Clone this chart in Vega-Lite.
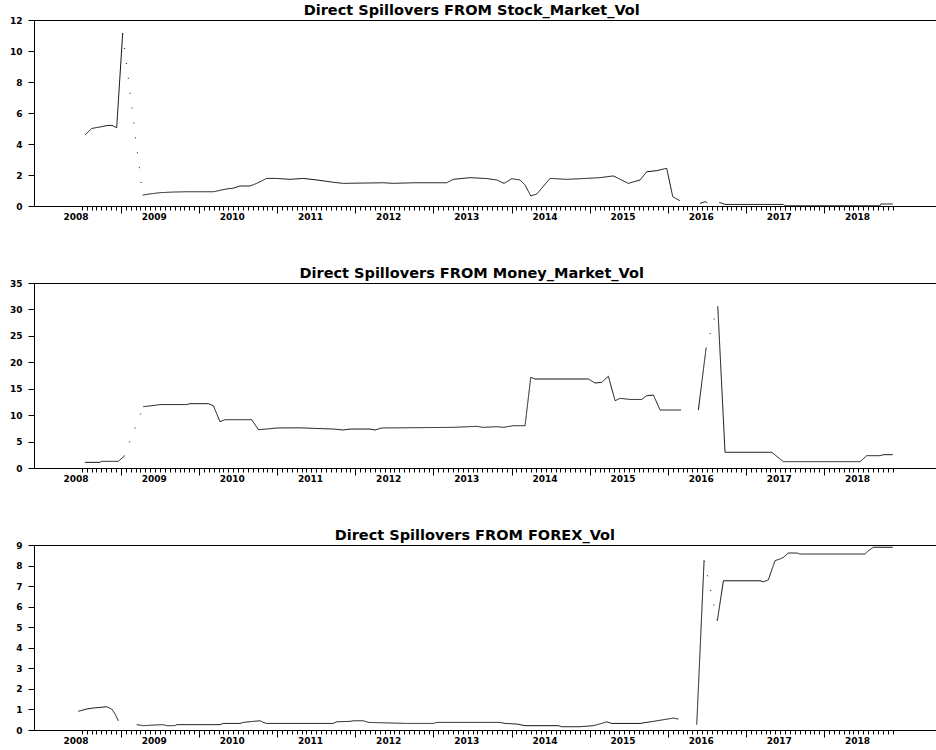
{
"$schema": "https://vega.github.io/schema/vega-lite/v6.json",
"padding": {"left": 8, "top": 2, "right": 0, "bottom": 0},
"background": "white",
"datasets": {
"stock": [
{"t":2008.121,"v":4.58,"g":1,"s":"solid"},{"t":2008.206,"v":5.0,"g":1,"s":"solid"},{"t":2008.313,"v":5.1,"g":1,"s":"solid"},{"t":2008.415,"v":5.2,"g":1,"s":"solid"},{"t":2008.466,"v":5.2,"g":1,"s":"solid"},{"t":2008.526,"v":5.05,"g":1,"s":"solid"},{"t":2008.603,"v":11.15,"g":1,"s":"solid"},
{"t":2008.603,"v":11.15,"g":2,"s":"dotted"},{"t":2008.859,"v":0.7,"g":2,"s":"dotted"},
{"t":2008.859,"v":0.7,"g":3,"s":"solid"},{"t":2008.910,"v":0.75,"g":3,"s":"solid"},{"t":2009.080,"v":0.86,"g":3,"s":"solid"},{"t":2009.251,"v":0.9,"g":3,"s":"solid"},{"t":2009.422,"v":0.92,"g":3,"s":"solid"},{"t":2009.763,"v":0.92,"g":3,"s":"solid"},{"t":2009.934,"v":1.1,"g":3,"s":"solid"},{"t":2010.019,"v":1.15,"g":3,"s":"solid"},{"t":2010.104,"v":1.29,"g":3,"s":"solid"},{"t":2010.232,"v":1.29,"g":3,"s":"solid"},{"t":2010.318,"v":1.46,"g":3,"s":"solid"},{"t":2010.446,"v":1.78,"g":3,"s":"solid"},{"t":2010.574,"v":1.78,"g":3,"s":"solid"},{"t":2010.744,"v":1.72,"g":3,"s":"solid"},{"t":2010.914,"v":1.78,"g":3,"s":"solid"},{"t":2011.086,"v":1.68,"g":3,"s":"solid"},{"t":2011.298,"v":1.53,"g":3,"s":"solid"},{"t":2011.426,"v":1.46,"g":3,"s":"solid"},{"t":2011.938,"v":1.5,"g":3,"s":"solid"},{"t":2012.066,"v":1.46,"g":3,"s":"solid"},{"t":2012.322,"v":1.5,"g":3,"s":"solid"},{"t":2012.750,"v":1.5,"g":3,"s":"solid"},{"t":2012.834,"v":1.72,"g":3,"s":"solid"},{"t":2013.048,"v":1.83,"g":3,"s":"solid"},{"t":2013.262,"v":1.77,"g":3,"s":"solid"},{"t":2013.390,"v":1.68,"g":3,"s":"solid"},{"t":2013.483,"v":1.46,"g":3,"s":"solid"},{"t":2013.582,"v":1.76,"g":3,"s":"solid"},{"t":2013.688,"v":1.68,"g":3,"s":"solid"},{"t":2013.752,"v":1.35,"g":3,"s":"solid"},{"t":2013.825,"v":0.65,"g":3,"s":"solid"},{"t":2013.901,"v":0.77,"g":3,"s":"solid"},{"t":2014.072,"v":1.78,"g":3,"s":"solid"},{"t":2014.285,"v":1.72,"g":3,"s":"solid"},{"t":2014.541,"v":1.78,"g":3,"s":"solid"},{"t":2014.712,"v":1.83,"g":3,"s":"solid"},{"t":2014.882,"v":1.94,"g":3,"s":"solid"},{"t":2015.074,"v":1.46,"g":3,"s":"solid"},{"t":2015.224,"v":1.68,"g":3,"s":"solid"},{"t":2015.309,"v":2.21,"g":3,"s":"solid"},{"t":2015.437,"v":2.28,"g":3,"s":"solid"},{"t":2015.565,"v":2.43,"g":3,"s":"solid"},{"t":2015.642,"v":0.6,"g":3,"s":"solid"},{"t":2015.735,"v":0.34,"g":3,"s":"solid"},
{"t":2015.991,"v":0.17,"g":4,"s":"solid"},{"t":2016.055,"v":0.28,"g":4,"s":"solid"},{"t":2016.085,"v":0.2,"g":4,"s":"solid"},
{"t":2016.238,"v":0.24,"g":5,"s":"solid"},{"t":2016.311,"v":0.1,"g":5,"s":"solid"},{"t":2017.058,"v":0.1,"g":5,"s":"solid"},{"t":2017.079,"v":0.02,"g":5,"s":"solid"},{"t":2018.295,"v":0.02,"g":5,"s":"solid"},{"t":2018.304,"v":0.13,"g":5,"s":"solid"},{"t":2018.458,"v":0.13,"g":5,"s":"solid"}
],
"money": [
{"t":2008.121,"v":1.07,"g":1,"s":"solid"},{"t":2008.313,"v":1.07,"g":1,"s":"solid"},{"t":2008.334,"v":1.26,"g":1,"s":"solid"},{"t":2008.547,"v":1.26,"g":1,"s":"solid"},{"t":2008.620,"v":2.2,"g":1,"s":"solid"},
{"t":2008.620,"v":2.2,"g":2,"s":"dotted"},{"t":2008.867,"v":11.6,"g":2,"s":"dotted"},
{"t":2008.867,"v":11.6,"g":3,"s":"solid"},{"t":2009.038,"v":11.9,"g":3,"s":"solid"},{"t":2009.080,"v":12.0,"g":3,"s":"solid"},{"t":2009.422,"v":12.0,"g":3,"s":"solid"},{"t":2009.464,"v":12.17,"g":3,"s":"solid"},{"t":2009.699,"v":12.17,"g":3,"s":"solid"},{"t":2009.763,"v":11.8,"g":3,"s":"solid"},{"t":2009.848,"v":8.77,"g":3,"s":"solid"},{"t":2009.912,"v":9.14,"g":3,"s":"solid"},{"t":2010.254,"v":9.14,"g":3,"s":"solid"},{"t":2010.339,"v":7.25,"g":3,"s":"solid"},{"t":2010.446,"v":7.37,"g":3,"s":"solid"},{"t":2010.574,"v":7.57,"g":3,"s":"solid"},{"t":2010.872,"v":7.6,"g":3,"s":"solid"},{"t":2011.042,"v":7.5,"g":3,"s":"solid"},{"t":2011.298,"v":7.37,"g":3,"s":"solid"},{"t":2011.426,"v":7.19,"g":3,"s":"solid"},{"t":2011.512,"v":7.37,"g":3,"s":"solid"},{"t":2011.768,"v":7.37,"g":3,"s":"solid"},{"t":2011.832,"v":7.19,"g":3,"s":"solid"},{"t":2011.918,"v":7.57,"g":3,"s":"solid"},{"t":2012.834,"v":7.69,"g":3,"s":"solid"},{"t":2013.134,"v":7.88,"g":3,"s":"solid"},{"t":2013.218,"v":7.69,"g":3,"s":"solid"},{"t":2013.390,"v":7.82,"g":3,"s":"solid"},{"t":2013.474,"v":7.69,"g":3,"s":"solid"},{"t":2013.602,"v":8.0,"g":3,"s":"solid"},{"t":2013.752,"v":8.0,"g":3,"s":"solid"},{"t":2013.825,"v":17.16,"g":3,"s":"solid"},{"t":2013.880,"v":16.84,"g":3,"s":"solid"},{"t":2014.562,"v":16.84,"g":3,"s":"solid"},{"t":2014.648,"v":16.08,"g":3,"s":"solid"},{"t":2014.733,"v":16.2,"g":3,"s":"solid"},{"t":2014.818,"v":17.35,"g":3,"s":"solid"},{"t":2014.904,"v":12.73,"g":3,"s":"solid"},{"t":2014.968,"v":13.18,"g":3,"s":"solid"},{"t":2015.096,"v":12.97,"g":3,"s":"solid"},{"t":2015.245,"v":12.97,"g":3,"s":"solid"},{"t":2015.309,"v":13.68,"g":3,"s":"solid"},{"t":2015.394,"v":13.8,"g":3,"s":"solid"},{"t":2015.480,"v":10.97,"g":3,"s":"solid"},{"t":2015.748,"v":10.97,"g":3,"s":"solid"},
{"t":2015.970,"v":10.97,"g":4,"s":"solid"},{"t":2016.068,"v":22.6,"g":4,"s":"solid"},
{"t":2016.068,"v":22.6,"g":5,"s":"dotted"},{"t":2016.218,"v":30.6,"g":5,"s":"dotted"},
{"t":2016.218,"v":30.6,"g":6,"s":"solid"},{"t":2016.311,"v":2.97,"g":6,"s":"solid"},{"t":2016.909,"v":2.97,"g":6,"s":"solid"},{"t":2017.058,"v":1.2,"g":6,"s":"solid"},{"t":2018.039,"v":1.2,"g":6,"s":"solid"},{"t":2018.125,"v":2.33,"g":6,"s":"solid"},{"t":2018.295,"v":2.33,"g":6,"s":"solid"},{"t":2018.337,"v":2.52,"g":6,"s":"solid"},{"t":2018.458,"v":2.52,"g":6,"s":"solid"}
],
"forex": [
{"t":2008.035,"v":0.91,"g":1,"s":"solid"},{"t":2008.142,"v":1.02,"g":1,"s":"solid"},{"t":2008.227,"v":1.07,"g":1,"s":"solid"},{"t":2008.313,"v":1.1,"g":1,"s":"solid"},{"t":2008.398,"v":1.13,"g":1,"s":"solid"},{"t":2008.462,"v":1.02,"g":1,"s":"solid"},{"t":2008.505,"v":0.78,"g":1,"s":"solid"},{"t":2008.547,"v":0.45,"g":1,"s":"solid"},
{"t":2008.782,"v":0.26,"g":2,"s":"solid"},{"t":2008.867,"v":0.21,"g":2,"s":"solid"},{"t":2008.995,"v":0.24,"g":2,"s":"solid"},{"t":2009.123,"v":0.26,"g":2,"s":"solid"},{"t":2009.166,"v":0.21,"g":2,"s":"solid"},{"t":2009.272,"v":0.21,"g":2,"s":"solid"},{"t":2009.294,"v":0.26,"g":2,"s":"solid"},{"t":2009.848,"v":0.26,"g":2,"s":"solid"},{"t":2009.891,"v":0.32,"g":2,"s":"solid"},{"t":2010.104,"v":0.32,"g":2,"s":"solid"},{"t":2010.147,"v":0.37,"g":2,"s":"solid"},{"t":2010.275,"v":0.42,"g":2,"s":"solid"},{"t":2010.360,"v":0.45,"g":2,"s":"solid"},{"t":2010.402,"v":0.37,"g":2,"s":"solid"},{"t":2010.446,"v":0.32,"g":2,"s":"solid"},{"t":2011.298,"v":0.32,"g":2,"s":"solid"},{"t":2011.342,"v":0.4,"g":2,"s":"solid"},{"t":2011.512,"v":0.42,"g":2,"s":"solid"},{"t":2011.554,"v":0.45,"g":2,"s":"solid"},{"t":2011.682,"v":0.45,"g":2,"s":"solid"},{"t":2011.746,"v":0.37,"g":2,"s":"solid"},{"t":2012.238,"v":0.32,"g":2,"s":"solid"},{"t":2012.578,"v":0.32,"g":2,"s":"solid"},{"t":2012.622,"v":0.37,"g":2,"s":"solid"},{"t":2013.432,"v":0.37,"g":2,"s":"solid"},{"t":2013.496,"v":0.32,"g":2,"s":"solid"},{"t":2013.645,"v":0.29,"g":2,"s":"solid"},{"t":2013.752,"v":0.21,"g":2,"s":"solid"},{"t":2014.178,"v":0.21,"g":2,"s":"solid"},{"t":2014.221,"v":0.16,"g":2,"s":"solid"},{"t":2014.456,"v":0.16,"g":2,"s":"solid"},{"t":2014.626,"v":0.21,"g":2,"s":"solid"},{"t":2014.733,"v":0.32,"g":2,"s":"solid"},{"t":2014.797,"v":0.4,"g":2,"s":"solid"},{"t":2014.861,"v":0.32,"g":2,"s":"solid"},{"t":2015.224,"v":0.32,"g":2,"s":"solid"},{"t":2015.394,"v":0.42,"g":2,"s":"solid"},{"t":2015.650,"v":0.58,"g":2,"s":"solid"},{"t":2015.714,"v":0.53,"g":2,"s":"solid"},
{"t":2015.949,"v":0.26,"g":3,"s":"solid"},{"t":2016.043,"v":8.24,"g":3,"s":"solid"},
{"t":2016.043,"v":8.24,"g":4,"s":"dotted"},{"t":2016.213,"v":5.32,"g":4,"s":"dotted"},
{"t":2016.213,"v":5.32,"g":5,"s":"solid"},{"t":2016.290,"v":7.26,"g":5,"s":"solid"},{"t":2016.759,"v":7.26,"g":5,"s":"solid"},{"t":2016.801,"v":7.21,"g":5,"s":"solid"},{"t":2016.865,"v":7.3,"g":5,"s":"solid"},{"t":2016.951,"v":8.24,"g":5,"s":"solid"},{"t":2017.015,"v":8.32,"g":5,"s":"solid"},{"t":2017.058,"v":8.4,"g":5,"s":"solid"},{"t":2017.121,"v":8.61,"g":5,"s":"solid"},{"t":2017.229,"v":8.61,"g":5,"s":"solid"},{"t":2017.271,"v":8.56,"g":5,"s":"solid"},{"t":2018.103,"v":8.56,"g":5,"s":"solid"},{"t":2018.145,"v":8.72,"g":5,"s":"solid"},{"t":2018.209,"v":8.89,"g":5,"s":"solid"},{"t":2018.458,"v":8.89,"g":5,"s":"solid"}
]
},
"concat": [
{
"title": "Direct Spillovers FROM Stock_Market_Vol",
"width": 916, "height": 186,
"data": {"name": "stock"},
"mark": {"type": "line", "color": "#111111", "strokeWidth": 1},
"encoding": {
"x": {"field": "t", "type": "quantitative", "scale": {"domain": [2007.468, 2019.19], "nice": false, "zero": false},
"axis": {"title": null, "grid": false, "labelOverlap": false, "labelFlush": false, "labelBound": false, "labelPadding": 2,
"labelExpr": "datum.value % 1 === 0 ? format(datum.value, 'd') : ''",
"tickSize": {"condition": {"test": "abs(datum.value % 1 - 0.58) < 0.002", "value": 7}, "value": 4},
"tickOpacity": {"condition": {"test": "datum.value % 1 === 0", "value": 0}, "value": 1},
"values": [2008,2008.08,2008.1425,2008.205,2008.2675,2008.33,2008.3925,2008.455,2008.5175,2008.58,2008.6425,2008.705,2008.7675,2008.83,2008.8925,2008.955,2009,2009.0175,2009.08,2009.1425,2009.205,2009.2675,2009.33,2009.3925,2009.455,2009.5175,2009.58,2009.6425,2009.705,2009.7675,2009.83,2009.8925,2009.955,2010,2010.0175,2010.08,2010.1425,2010.205,2010.2675,2010.33,2010.3925,2010.455,2010.5175,2010.58,2010.6425,2010.705,2010.7675,2010.83,2010.8925,2010.955,2011,2011.0175,2011.08,2011.1425,2011.205,2011.2675,2011.33,2011.3925,2011.455,2011.5175,2011.58,2011.6425,2011.705,2011.7675,2011.83,2011.8925,2011.955,2012,2012.0175,2012.08,2012.1425,2012.205,2012.2675,2012.33,2012.3925,2012.455,2012.5175,2012.58,2012.6425,2012.705,2012.7675,2012.83,2012.8925,2012.955,2013,2013.0175,2013.08,2013.1425,2013.205,2013.2675,2013.33,2013.3925,2013.455,2013.5175,2013.58,2013.6425,2013.705,2013.7675,2013.83,2013.8925,2013.955,2014,2014.0175,2014.08,2014.1425,2014.205,2014.2675,2014.33,2014.3925,2014.455,2014.5175,2014.58,2014.6425,2014.705,2014.7675,2014.83,2014.8925,2014.955,2015,2015.0175,2015.08,2015.1425,2015.205,2015.2675,2015.33,2015.3925,2015.455,2015.5175,2015.58,2015.6425,2015.705,2015.7675,2015.83,2015.8925,2015.955,2016,2016.0175,2016.08,2016.1425,2016.205,2016.2675,2016.33,2016.3925,2016.455,2016.5175,2016.58,2016.6425,2016.705,2016.7675,2016.83,2016.8925,2016.955,2017,2017.0175,2017.08,2017.1425,2017.205,2017.2675,2017.33,2017.3925,2017.455,2017.5175,2017.58,2017.6425,2017.705,2017.7675,2017.83,2017.8925,2017.955,2018,2018.0175,2018.08,2018.1425,2018.205,2018.2675,2018.33,2018.3925,2018.455]}},
"y": {"field": "v", "type": "quantitative", "scale": {"domain": [0, 12], "nice": false}, "axis": {"title": null, "grid": false, "values": [0,2,4,6,8,10,12]}},
"detail": {"field": "g", "type": "nominal"},
"strokeDash": {"field": "s", "type": "nominal", "scale": {"domain": ["solid", "dotted"], "range": [[1, 0], [1, 14]]}, "legend": null}
}
},
{
"title": "Direct Spillovers FROM Money_Market_Vol",
"width": 916, "height": 185,
"data": {"name": "money"},
"mark": {"type": "line", "color": "#111111", "strokeWidth": 1},
"encoding": {
"x": {"field": "t", "type": "quantitative", "scale": {"domain": [2007.468, 2019.19], "nice": false, "zero": false},
"axis": {"title": null, "grid": false, "labelOverlap": false, "labelFlush": false, "labelBound": false, "labelPadding": 2,
"labelExpr": "datum.value % 1 === 0 ? format(datum.value, 'd') : ''",
"tickSize": {"condition": {"test": "abs(datum.value % 1 - 0.58) < 0.002", "value": 7}, "value": 4},
"tickOpacity": {"condition": {"test": "datum.value % 1 === 0", "value": 0}, "value": 1},
"values": [2008,2008.08,2008.1425,2008.205,2008.2675,2008.33,2008.3925,2008.455,2008.5175,2008.58,2008.6425,2008.705,2008.7675,2008.83,2008.8925,2008.955,2009,2009.0175,2009.08,2009.1425,2009.205,2009.2675,2009.33,2009.3925,2009.455,2009.5175,2009.58,2009.6425,2009.705,2009.7675,2009.83,2009.8925,2009.955,2010,2010.0175,2010.08,2010.1425,2010.205,2010.2675,2010.33,2010.3925,2010.455,2010.5175,2010.58,2010.6425,2010.705,2010.7675,2010.83,2010.8925,2010.955,2011,2011.0175,2011.08,2011.1425,2011.205,2011.2675,2011.33,2011.3925,2011.455,2011.5175,2011.58,2011.6425,2011.705,2011.7675,2011.83,2011.8925,2011.955,2012,2012.0175,2012.08,2012.1425,2012.205,2012.2675,2012.33,2012.3925,2012.455,2012.5175,2012.58,2012.6425,2012.705,2012.7675,2012.83,2012.8925,2012.955,2013,2013.0175,2013.08,2013.1425,2013.205,2013.2675,2013.33,2013.3925,2013.455,2013.5175,2013.58,2013.6425,2013.705,2013.7675,2013.83,2013.8925,2013.955,2014,2014.0175,2014.08,2014.1425,2014.205,2014.2675,2014.33,2014.3925,2014.455,2014.5175,2014.58,2014.6425,2014.705,2014.7675,2014.83,2014.8925,2014.955,2015,2015.0175,2015.08,2015.1425,2015.205,2015.2675,2015.33,2015.3925,2015.455,2015.5175,2015.58,2015.6425,2015.705,2015.7675,2015.83,2015.8925,2015.955,2016,2016.0175,2016.08,2016.1425,2016.205,2016.2675,2016.33,2016.3925,2016.455,2016.5175,2016.58,2016.6425,2016.705,2016.7675,2016.83,2016.8925,2016.955,2017,2017.0175,2017.08,2017.1425,2017.205,2017.2675,2017.33,2017.3925,2017.455,2017.5175,2017.58,2017.6425,2017.705,2017.7675,2017.83,2017.8925,2017.955,2018,2018.0175,2018.08,2018.1425,2018.205,2018.2675,2018.33,2018.3925,2018.455]}},
"y": {"field": "v", "type": "quantitative", "scale": {"domain": [0, 35], "nice": false}, "axis": {"title": null, "grid": false, "values": [0,5,10,15,20,25,30,35]}},
"detail": {"field": "g", "type": "nominal"},
"strokeDash": {"field": "s", "type": "nominal", "scale": {"domain": ["solid", "dotted"], "range": [[1, 0], [1, 14]]}, "legend": null}
}
},
{
"title": "Direct Spillovers FROM FOREX_Vol",
"width": 916, "height": 185,
"data": {"name": "forex"},
"mark": {"type": "line", "color": "#111111", "strokeWidth": 1},
"encoding": {
"x": {"field": "t", "type": "quantitative", "scale": {"domain": [2007.468, 2019.19], "nice": false, "zero": false},
"axis": {"title": null, "grid": false, "labelOverlap": false, "labelFlush": false, "labelBound": false, "labelPadding": 2,
"labelExpr": "datum.value % 1 === 0 ? format(datum.value, 'd') : ''",
"tickSize": {"condition": {"test": "abs(datum.value % 1 - 0.58) < 0.002", "value": 7}, "value": 4},
"tickOpacity": {"condition": {"test": "datum.value % 1 === 0", "value": 0}, "value": 1},
"values": [2008,2008.08,2008.1425,2008.205,2008.2675,2008.33,2008.3925,2008.455,2008.5175,2008.58,2008.6425,2008.705,2008.7675,2008.83,2008.8925,2008.955,2009,2009.0175,2009.08,2009.1425,2009.205,2009.2675,2009.33,2009.3925,2009.455,2009.5175,2009.58,2009.6425,2009.705,2009.7675,2009.83,2009.8925,2009.955,2010,2010.0175,2010.08,2010.1425,2010.205,2010.2675,2010.33,2010.3925,2010.455,2010.5175,2010.58,2010.6425,2010.705,2010.7675,2010.83,2010.8925,2010.955,2011,2011.0175,2011.08,2011.1425,2011.205,2011.2675,2011.33,2011.3925,2011.455,2011.5175,2011.58,2011.6425,2011.705,2011.7675,2011.83,2011.8925,2011.955,2012,2012.0175,2012.08,2012.1425,2012.205,2012.2675,2012.33,2012.3925,2012.455,2012.5175,2012.58,2012.6425,2012.705,2012.7675,2012.83,2012.8925,2012.955,2013,2013.0175,2013.08,2013.1425,2013.205,2013.2675,2013.33,2013.3925,2013.455,2013.5175,2013.58,2013.6425,2013.705,2013.7675,2013.83,2013.8925,2013.955,2014,2014.0175,2014.08,2014.1425,2014.205,2014.2675,2014.33,2014.3925,2014.455,2014.5175,2014.58,2014.6425,2014.705,2014.7675,2014.83,2014.8925,2014.955,2015,2015.0175,2015.08,2015.1425,2015.205,2015.2675,2015.33,2015.3925,2015.455,2015.5175,2015.58,2015.6425,2015.705,2015.7675,2015.83,2015.8925,2015.955,2016,2016.0175,2016.08,2016.1425,2016.205,2016.2675,2016.33,2016.3925,2016.455,2016.5175,2016.58,2016.6425,2016.705,2016.7675,2016.83,2016.8925,2016.955,2017,2017.0175,2017.08,2017.1425,2017.205,2017.2675,2017.33,2017.3925,2017.455,2017.5175,2017.58,2017.6425,2017.705,2017.7675,2017.83,2017.8925,2017.955,2018,2018.0175,2018.08,2018.1425,2018.205,2018.2675,2018.33,2018.3925,2018.455]}},
"y": {"field": "v", "type": "quantitative", "scale": {"domain": [0, 9], "nice": false}, "axis": {"title": null, "grid": false, "values": [0,1,2,3,4,5,6,7,8,9]}},
"detail": {"field": "g", "type": "nominal"},
"strokeDash": {"field": "s", "type": "nominal", "scale": {"domain": ["solid", "dotted"], "range": [[1, 0], [1, 14]]}, "legend": null}
}
}
],
"columns": 1,
"align": "none",
"spacing": 40,
"config": {
"view": {"stroke": "#000000", "strokeWidth": 1},
"axis": {"domainColor": "#000000", "tickColor": "#000000", "labelColor": "#000000", "labelFont": "DejaVu Sans", "labelFontWeight": "bold", "labelFontSize": 9},
"axisY": {"tickSize": 6, "labelPadding": 6, "minExtent": 0},
"title": {"font": "DejaVu Sans", "fontSize": 14.5, "fontWeight": "bold", "color": "#000000", "anchor": "middle", "frame": "bounds", "offset": -2, "dx": -8}
}
}
